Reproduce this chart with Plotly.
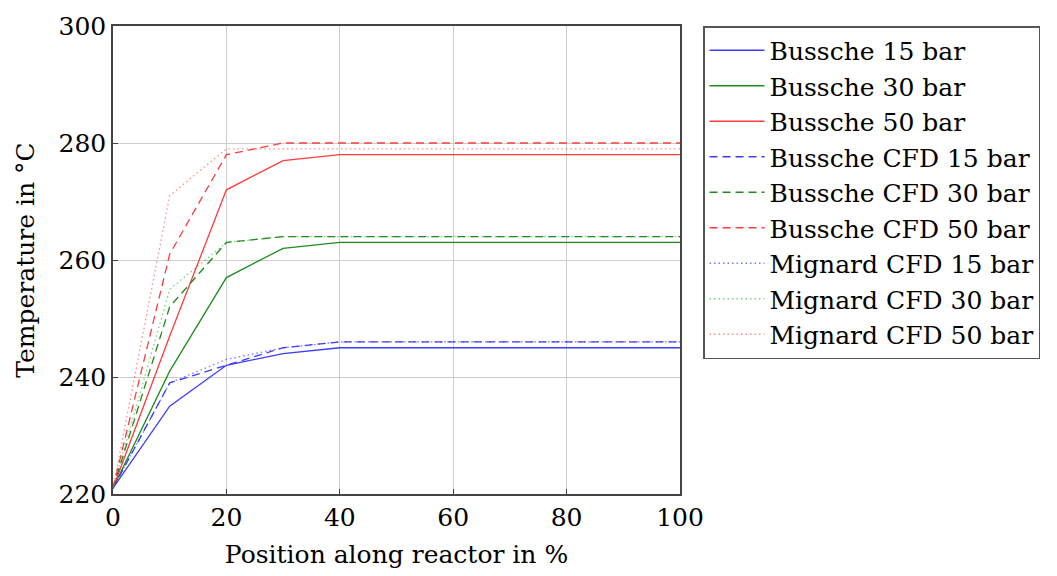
import plotly.graph_objects as go

x = [0, 10, 20, 30, 40, 50, 60, 70, 80, 90, 100]

bussche_15 = [221, 235, 242, 244, 245, 245, 245, 245, 245, 245, 245]
bussche_30 = [221, 241, 257, 262, 263, 263, 263, 263, 263, 263, 263]
bussche_50 = [221, 247, 272, 277, 278, 278, 278, 278, 278, 278, 278]
bussche_cfd_15 = [221, 239, 242, 245, 246, 246, 246, 246, 246, 246, 246]
bussche_cfd_30 = [221, 252, 263, 264, 264, 264, 264, 264, 264, 264, 264]
bussche_cfd_50 = [221, 261, 278, 280, 280, 280, 280, 280, 280, 280, 280]
mignard_cfd_15 = [221, 239, 243, 245, 246, 246, 246, 246, 246, 246, 246]
mignard_cfd_30 = [221, 255, 263, 264, 264, 264, 264, 264, 264, 264, 264]
mignard_cfd_50 = [221, 271, 279, 279, 279, 279, 279, 279, 279, 279, 279]

x_ticks = [0, 20, 40, 60, 80, 100]
y_ticks = [220, 240, 260, 280, 300]

BLUE = "rgb(60,60,255)"
GREEN = "rgb(30,140,30)"
RED = "rgb(255,60,60)"
BLUE_L = "rgba(60,60,255,0.7)"
GREEN_L = "rgba(30,160,30,0.55)"
RED_L = "rgba(255,60,60,0.6)"

series = [
    ("Bussche 15 bar", bussche_15, BLUE, "solid"),
    ("Bussche 30 bar", bussche_30, GREEN, "solid"),
    ("Bussche 50 bar", bussche_50, RED, "solid"),
    ("Bussche CFD 15 bar", bussche_cfd_15, BLUE, "8px,5px"),
    ("Bussche CFD 30 bar", bussche_cfd_30, GREEN, "8px,5px"),
    ("Bussche CFD 50 bar", bussche_cfd_50, RED, "8px,5px"),
    ("Mignard CFD 15 bar", mignard_cfd_15, BLUE_L, "1.5px,3px"),
    ("Mignard CFD 30 bar", mignard_cfd_30, GREEN_L, "1.5px,3px"),
    ("Mignard CFD 50 bar", mignard_cfd_50, RED_L, "1.5px,3px"),
]

fig = go.Figure()
for name, ys, color, dash in series:
    fig.add_trace(go.Scatter(x=x, y=ys, mode="lines", name=name,
                             line=dict(color=color, width=1.3, dash=dash)))

FONT = "DejaVu Serif"
F = dict(family=FONT, size=25, color="black")
fig.update_layout(
    width=1057, height=576,
    margin=dict(l=113, r=377, t=20, b=79),
    paper_bgcolor="white", plot_bgcolor="white",
    font=F,
    showlegend=True,
    legend=dict(x=1.0406, y=1, xanchor="left", yanchor="top",
                bordercolor="#555", borderwidth=1.5, itemwidth=55,
                font=F, tracegroupgap=0),
    xaxis=dict(range=[0, 100], tickvals=x_ticks, showgrid=True,
               gridcolor="#cccccc", gridwidth=1, showline=True, linecolor="#444",
               linewidth=1.5, mirror=True, ticks="inside", ticklen=5, tickcolor="#444",
               zeroline=False,
               title=dict(text="Position along reactor in %", standoff=15, font=F),
               tickfont=F),
    yaxis=dict(range=[220, 300], tickvals=y_ticks, showgrid=True,
               gridcolor="#cccccc", gridwidth=1, showline=True, linecolor="#444",
               linewidth=1.5, mirror=True, ticks="inside", ticklen=5, tickcolor="#444",
               zeroline=False,
               title=dict(text="Temperature in °C", standoff=17, font=F),
               tickfont=F),
)

fig.write_html("out.html")
